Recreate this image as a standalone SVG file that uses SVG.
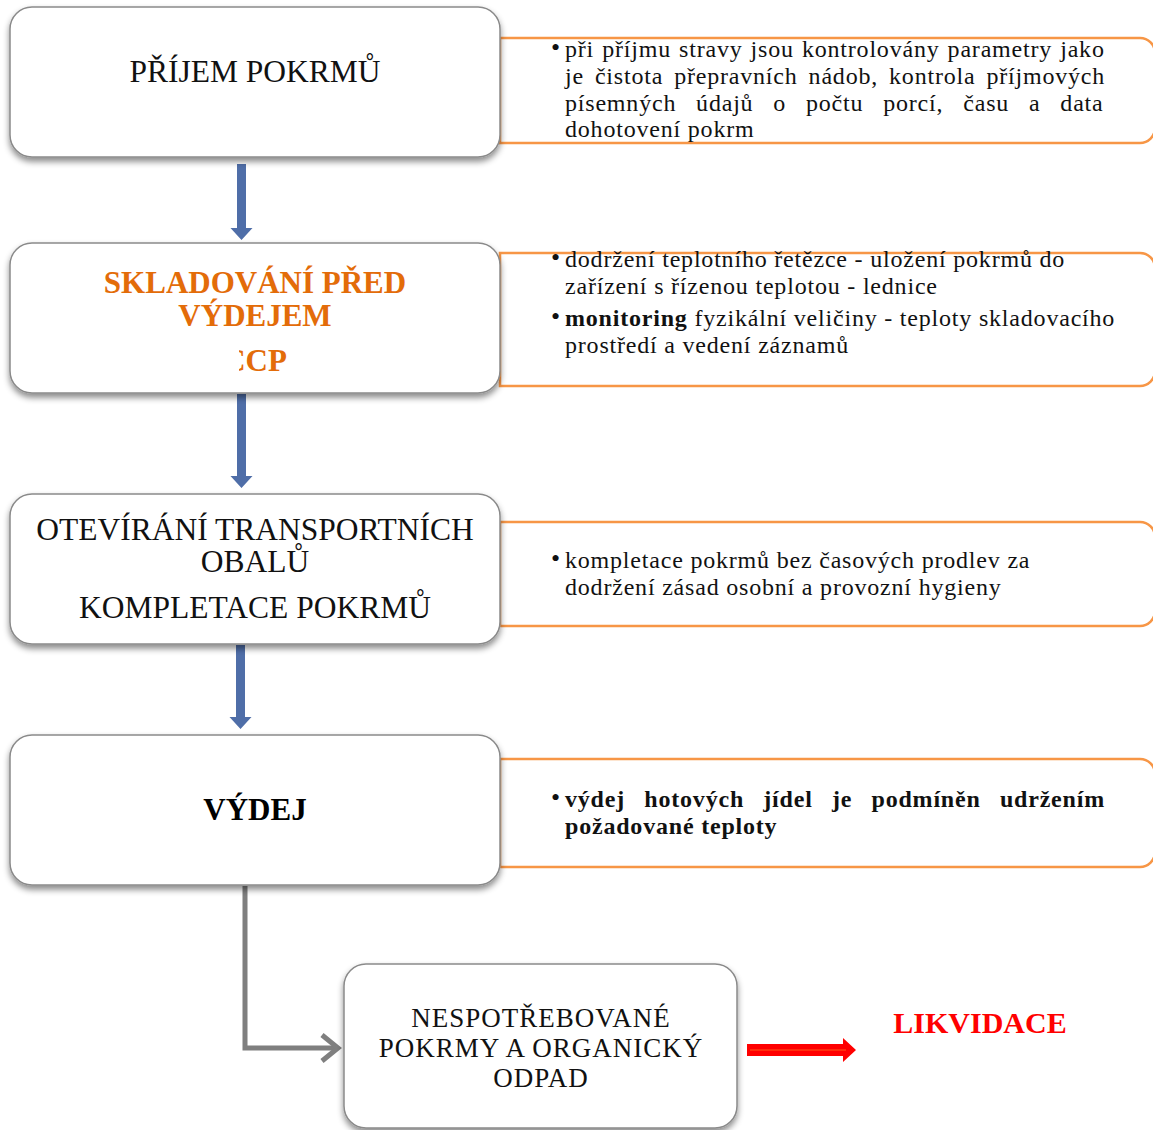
<svg xmlns="http://www.w3.org/2000/svg" width="1153" height="1130" viewBox="0 0 1153 1130">
<style>
.node{fill:#fff;stroke:#8a8a8a;stroke-width:1.5;filter:url(#sh)}
.call{fill:#fff;stroke:#f79646;stroke-width:2.5}
.nt{font-family:"Liberation Serif",serif;font-size:31.5px;fill:#111;text-anchor:middle}
.n5{font-family:"Liberation Serif",serif;font-size:27px;letter-spacing:1px;fill:#111;text-anchor:middle}
.nb{font-family:"Liberation Serif",serif;font-size:31px;font-weight:bold;text-anchor:middle}
.ct{font-family:"Liberation Serif",serif;font-size:24px;letter-spacing:0.8px;fill:#111}
.bul{font-family:"Liberation Serif",serif;font-size:26px;fill:#111}
.blue{fill:#4f6ea8}
</style>
<defs>
<filter id="sh" x="-10%" y="-10%" width="120%" height="130%">
<feDropShadow dx="0" dy="4" stdDeviation="3" flood-color="#000" flood-opacity="0.45"/>
</filter>
<clipPath id="ccpclip"><rect x="239" y="340" width="80" height="40"/></clipPath>
</defs>

<g id="callouts">
<path class="call" d="M500 38H1140A15 15 0 0 1 1155 53V128A15 15 0 0 1 1140 143H500Z"/>
<path class="call" d="M500 253H1140A15 15 0 0 1 1155 268V371A15 15 0 0 1 1140 386H500Z"/>
<path class="call" d="M500 522H1140A15 15 0 0 1 1155 537V611A15 15 0 0 1 1140 626H500Z"/>
<path class="call" d="M500 759H1140A15 15 0 0 1 1155 774V852A15 15 0 0 1 1140 867H500Z"/>
</g>

<g id="callout-text-1">
<text class="bul" x="551" y="56">•</text>
<text class="ct" x="565" y="57" word-spacing="1.3">při příjmu stravy jsou kontrolovány parametry jako</text>
<text class="ct" x="565" y="84" word-spacing="4.2">je čistota přepravních nádob, kontrola příjmových</text>
<text class="ct" x="565" y="111" word-spacing="13.1">písemných údajů o počtu porcí, času a data</text>
<text class="ct" x="565" y="137">dohotovení pokrm</text>
</g>
<g id="callout-text-2">
<text class="bul" x="551" y="266">•</text>
<text class="ct" x="565" y="267">dodržení teplotního řetězce - uložení pokrmů do</text>
<text class="ct" x="565" y="294">zařízení s řízenou teplotou - lednice</text>
<text class="bul" x="551" y="325">•</text>
<text class="ct" x="565" y="326"><tspan font-weight="bold">monitoring</tspan> fyzikální veličiny - teploty skladovacího</text>
<text class="ct" x="565" y="353">prostředí a vedení záznamů</text>
</g>
<g id="callout-text-3">
<text class="bul" x="551" y="567">•</text>
<text class="ct" x="565" y="568">kompletace pokrmů bez časových prodlev za</text>
<text class="ct" x="565" y="595">dodržení zásad osobní a provozní hygieny</text>
</g>
<g id="callout-text-4">
<text class="bul" x="551" y="806">•</text>
<text class="ct" x="565" y="807" font-weight="bold" word-spacing="12.5">výdej hotových jídel je podmíněn udržením</text>
<text class="ct" x="565" y="834" font-weight="bold">požadované teploty</text>
</g>

<g id="connectors">
<polygon class="blue" points="237,164 246,164 246,228 252.5,228 241.5,240 230.5,228 237,228"/>
<polygon class="blue" points="237,394 246,394 246,476 252.5,476 241.5,488 230.5,476 237,476"/>
<polygon class="blue" points="236,645 245,645 245,717 251.5,717 240.5,729 229.5,717 236,717"/>
<path d="M245 886V1048H337" fill="none" stroke="#7f7f7f" stroke-width="5"/>
<polyline points="322,1035 338,1048 322,1061" fill="none" stroke="#7f7f7f" stroke-width="5" stroke-linejoin="miter"/>
<polygon points="747,1044 843,1044 843,1038 856,1050 843,1062 843,1056 747,1056" fill="#ff0000"/>
<line x1="750" y1="1050" x2="846" y2="1050" stroke="#ff5a1a" stroke-width="1"/>
</g>

<g id="node-prijem">
<rect class="node" x="10" y="7" width="490" height="150" rx="22"/>
<text class="nt" x="255" y="82">PŘÍJEM POKRMŮ</text>
</g>
<g id="node-skladovani">
<rect class="node" x="10" y="243" width="490" height="150" rx="22"/>
<text class="nb" x="255" y="293" fill="#e36c09">SKLADOVÁNÍ PŘED</text>
<text class="nb" x="255" y="326" fill="#e36c09">VÝDEJEM</text>
<text class="nb" x="255" y="371" fill="#e36c09" clip-path="url(#ccpclip)">CCP</text>
</g>
<g id="node-oteviran">
<rect class="node" x="10" y="494" width="490" height="150" rx="22"/>
<text class="nt" x="255" y="540">OTEVÍRÁNÍ TRANSPORTNÍCH</text>
<text class="nt" x="255" y="572">OBALŮ</text>
<text class="nt" x="255" y="618">KOMPLETACE POKRMŮ</text>
</g>
<g id="node-vydej">
<rect class="node" x="10" y="735" width="490" height="150" rx="22"/>
<text class="nb" x="255" y="820" fill="#000">VÝDEJ</text>
</g>
<g id="node-nespotrebovane">
<rect class="node" x="344" y="964" width="393" height="164" rx="22"/>
<text class="n5" x="541" y="1027">NESPOTŘEBOVANÉ</text>
<text class="n5" x="541" y="1057">POKRMY A ORGANICKÝ</text>
<text class="n5" x="541" y="1087">ODPAD</text>
</g>
<g id="node-likvidace">
<text x="980" y="1033" font-family="'Liberation Serif',serif" font-size="30" font-weight="bold" fill="#ff0000" text-anchor="middle">LIKVIDACE</text>
</g>
</svg>
